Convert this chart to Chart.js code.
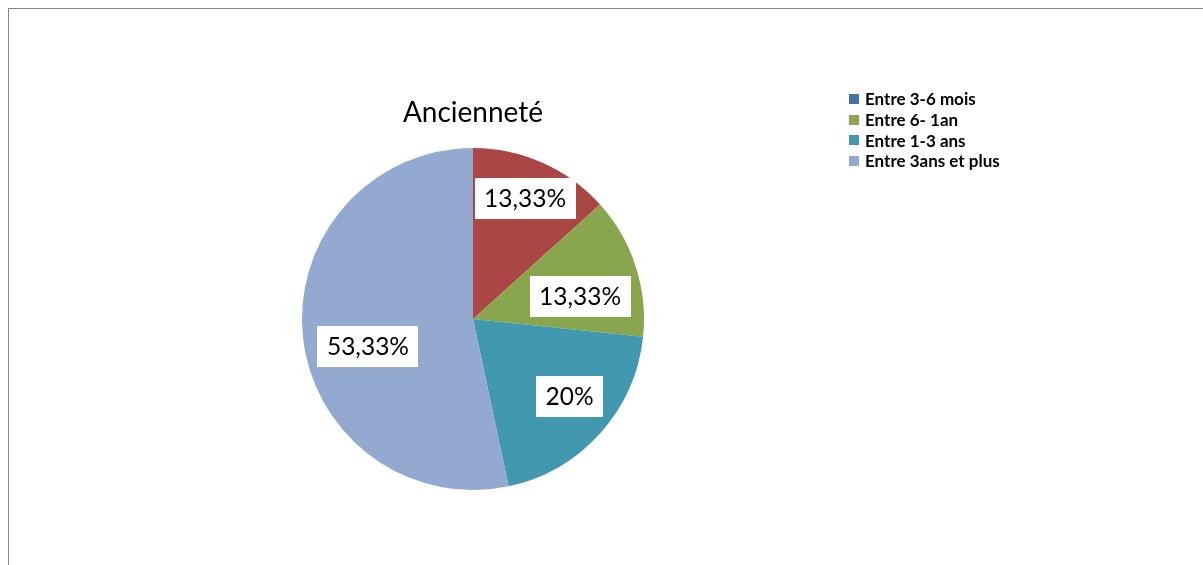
<!DOCTYPE html>
<html><head><meta charset="utf-8">
<script src="https://cdn.jsdelivr.net/npm/chart.js@4/dist/chart.umd.min.js"></script>
<style>
html,body{margin:0;padding:0;background:#fff;overflow:hidden;width:1203px;height:565px;}
#frame{position:absolute;left:8px;top:8px;width:1400px;height:800px;border:1px solid #868686;border-right:none;border-bottom:none;}
#wrap{position:absolute;left:0;top:0;width:1203px;height:565px;}
#legend{position:absolute;left:849px;top:88.5px;font-family:Lato,'Open Sans',sans-serif;font-weight:bold;font-size:17px;color:#000;}
#legend .row{height:20.7px;display:flex;align-items:center;white-space:nowrap;}
#legend .sw{width:10px;height:10px;margin-right:6px;flex:none;}
</style></head>
<body>
<div id="frame"></div>
<div id="wrap"><canvas id="c" width="1203" height="565"></canvas></div>
<div id="legend"></div>
<script>
const titleText = "Ancienneté";
const categories = ["Entre 3-6 mois", "", "Entre 6- 1an", "Entre 1-3 ans", "Entre 3ans et plus"];
const values = [0, 13.33, 13.33, 20, 53.33];
const colors = ["#4572A7", "#AA4643", "#89A54E", "#4198AF", "#93A9CF"];
// label placement: [angle offset in degrees from slice middle, fraction of radius]
const labelPlacement = [[0,0.7],[-0.7,0.77],[6,0.64],[-3.2,0.724],[-8.7,0.635]];

function fmt(v){
  let s = (Math.round(v*100)/100).toString();
  return s.replace('.', ',') + '%';
}

const labelPlugin = {
  id:'boxLabels',
  afterDatasetsDraw(chart){
    const ctx = chart.ctx;
    const meta = chart.getDatasetMeta(0);
    ctx.save();
    ctx.font = "24.5px Lato, 'Open Sans', sans-serif";
    ctx.textAlign='center'; ctx.textBaseline='middle';
    meta.data.forEach((arc,i)=>{
      const v = values[i];
      if(!v) return;
      const p = arc.getProps(['x','y','startAngle','endAngle','outerRadius'], true);
      const mid = (p.startAngle+p.endAngle)/2 + labelPlacement[i][0]*Math.PI/180;
      const r = p.outerRadius*labelPlacement[i][1];
      const cx = p.x + Math.cos(mid)*r, cy = p.y + Math.sin(mid)*r;
      const t = fmt(v);
      const w = ctx.measureText(t).width + 19, h = 41;
      ctx.fillStyle='#fff';
      ctx.fillRect(Math.round(cx-w/2), Math.round(cy-h/2), Math.round(w), h);
      ctx.fillStyle='#000';
      ctx.fillText(t, cx, cy+1);
    });
    ctx.restore();
  }
};

new Chart(document.getElementById('c'), {
  type:'pie',
  data:{labels:categories, datasets:[{data:values, backgroundColor:colors, borderWidth:0}]},
  options:{
    responsive:false, animation:false, maintainAspectRatio:false,
    layout:{padding:{left:302, right:559, top:96, bottom:75}},
    plugins:{
      legend:{display:false}, tooltip:{enabled:false},
      title:{display:true, text:titleText, color:'#000', font:{family:"Lato, 'Open Sans', sans-serif", size:28, weight:'normal', lineHeight:1.2}, padding:{top:0,bottom:18.4}}
    }
  },
  plugins:[labelPlugin]
});

const lg = document.getElementById('legend');
categories.forEach((c,i)=>{
  if(!c) return;
  const row = document.createElement('div'); row.className='row';
  const sw = document.createElement('span'); sw.className='sw'; sw.style.background=colors[i];
  const tx = document.createElement('span'); tx.textContent=c;
  row.appendChild(sw); row.appendChild(tx); lg.appendChild(row);
});
</script>
</body></html>
